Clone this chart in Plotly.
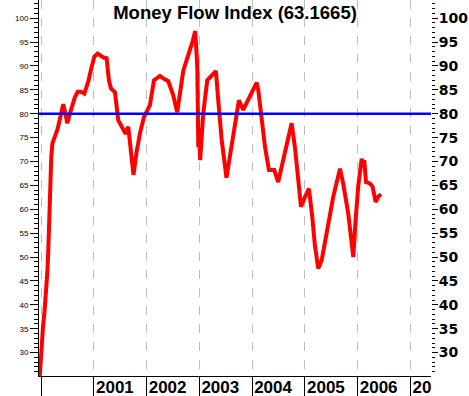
import plotly.graph_objects as go

# ---- data ----
dates = [
    "1999-12-22", "1999-12-29", "2000-01-04", "2000-01-15", "2000-01-25", "2000-02-05",
    "2000-02-13", "2000-02-20", "2000-02-25", "2000-03-01", "2000-03-05", "2000-03-12",
    "2000-03-20", "2000-04-06", "2000-04-25", "2000-05-15", "2000-06-03", "2000-06-18",
    "2000-07-01", "2000-07-24", "2000-08-23", "2000-09-11", "2000-10-03", "2000-10-27",
    "2000-11-23", "2000-12-12", "2001-01-04", "2001-01-27", "2001-02-24", "2001-03-12",
    "2001-03-30", "2001-04-15", "2001-04-29", "2001-05-27", "2001-06-19", "2001-07-16",
    "2001-08-09", "2001-08-27", "2001-09-19", "2001-10-02", "2001-10-24", "2001-11-16",
    "2001-12-14", "2002-01-24", "2002-02-21", "2002-04-03", "2002-05-01", "2002-05-31",
    "2002-07-04", "2002-08-01", "2002-09-12", "2002-10-16", "2002-11-16", "2002-12-04",
    "2002-12-18", "2002-12-25", "2002-12-29", "2003-01-07", "2003-01-28", "2003-02-25",
    "2003-03-27", "2003-04-26", "2003-05-12", "2003-06-05", "2003-07-08", "2003-08-01",
    "2003-08-22", "2003-10-02", "2003-11-01", "2003-12-06", "2004-02-02", "2004-02-13",
    "2004-03-07", "2004-03-31", "2004-04-27", "2004-06-03", "2004-06-30", "2004-08-04",
    "2004-09-08", "2004-10-01", "2004-10-24", "2004-11-16", "2004-12-05", "2005-01-02",
    "2005-01-29", "2005-02-21", "2005-03-11", "2005-04-03", "2005-04-27", "2005-05-31",
    "2005-07-16", "2005-09-01", "2005-09-23", "2005-10-28", "2005-11-14", "2005-12-02",
    "2005-12-18", "2006-01-05", "2006-01-29", "2006-02-09", "2006-02-16", "2006-02-28",
    "2006-03-27", "2006-04-15", "2006-05-06", "2006-05-24", "2006-06-11",
]
last_value = 63.1665
mfi = [
    24.5, 29.0, 32.5, 35.5, 38.5, 42.0,
    46.5, 51.0, 56.0, 61.0, 66.0, 71.0,
    73.8, 75.2, 76.8, 79.5, 82.0, 80.0,
    78.0, 80.5, 83.5, 84.6, 84.6, 84.2,
    86.7, 89.2, 91.9, 92.6, 92.0, 91.7,
    91.6, 87.0, 85.3, 84.5, 78.6, 76.9,
    75.8, 77.3, 71.0, 67.2, 72.0, 75.9,
    79.3, 81.8, 87.0, 87.9, 87.3, 86.8,
    83.9, 80.3, 89.0, 92.0, 95.2, 97.3,
    89.8, 73.0, 77.0, 70.3, 80.0, 87.0,
    88.0, 88.9, 82.8, 74.5, 66.6, 71.5,
    75.5, 82.8, 80.8, 82.8, 86.5, 85.0,
    79.3, 73.0, 68.2, 68.2, 65.7, 70.3,
    75.1, 78.0, 73.0, 65.4, 60.5, 62.6,
    64.3, 58.4, 52.5, 47.6, 49.3, 54.9,
    62.6, 68.5, 65.4, 59.1, 54.9, 50.0,
    57.7, 64.7, 70.6, 68.9, 70.3, 65.7,
    65.4, 64.7, 61.5, 62.6, last_value,
]
level = 80
year_ticks = ["2000-01-01", "2001-01-01", "2002-01-01", "2003-01-01",
              "2004-01-01", "2005-01-01", "2006-01-01", "2007-01-01"]
year_labels = ["", "2001", "2002", "2003", "2004", "2005", "2006",
               "20\u00a0\u00a0\u00a0\u00a0"]
x_range = ["1999-12-18", "2007-05-24"]
y_range = [25.1, 103.8]

fig = go.Figure()
fig.add_trace(go.Scatter(x=dates, y=mfi, mode="lines",
                         line=dict(color="#ff0000", width=4),
                         showlegend=False, hoverinfo="skip"))
fig.add_trace(go.Scatter(x=[dates[0]], y=[level], mode="markers", yaxis="y2",
                         marker=dict(opacity=0), showlegend=False, hoverinfo="skip"))

fig.add_shape(type="line", xref="paper", x0=0, x1=1, yref="y", y0=level, y1=level,
              line=dict(color="#0000ff", width=2.5), layer="above")

fig.update_layout(
    width=469, height=396,
    margin=dict(l=39, r=38, t=0, b=20, pad=0),
    paper_bgcolor="white", plot_bgcolor="white",
    showlegend=False,
    title=dict(text=f"Money Flow Index ({last_value})", x=0.5, xref="paper",
               xanchor="center", y=1 - 13 / 396, yanchor="middle",
               font=dict(family="Liberation Sans", size=18.5, weight="bold", color="black")),
    xaxis=dict(
        type="date", range=x_range, tickvals=year_ticks, ticktext=year_labels,
        ticks="outside", ticklen=20, tickcolor="black", tickwidth=1,
        showline=True, linecolor="black", linewidth=1,
        showgrid=True, gridcolor="#bdbdbd", griddash="dash", gridwidth=1,
        zeroline=False, automargin=False,
        tickfont=dict(family="Liberation Sans", size=17, weight="bold", color="black"),
        ticklabelshift=21, ticklabelstandoff=-24,
    ),
    yaxis=dict(
        range=y_range, tick0=0, dtick=5,
        ticks="outside", ticklen=8, tickcolor="black", tickwidth=1,
        minor=dict(dtick=1, ticks="outside", ticklen=4, tickcolor="black"),
        showline=True, linecolor="black", linewidth=1,
        showgrid=False, zeroline=False, automargin=False,
        tickfont=dict(family="Liberation Sans", size=8, color="black"),
    ),
    yaxis2=dict(
        overlaying="y", side="right", range=y_range, tick0=0, dtick=5,
        ticks="outside", ticklen=6, tickcolor="black", tickwidth=1,
        minor=dict(dtick=1, ticks="outside", ticklen=3, tickcolor="black"),
        showline=False, showgrid=False, zeroline=False, automargin=False,
        tickfont=dict(family="DejaVu Sans", size=14, weight="bold", color="black"),
        ticklabelstandoff=-2,
    ),
)

fig.write_html("out.html", config={"displayModeBar": False},
               post_script="document.body.style.margin='0';document.body.style.padding='0';")
